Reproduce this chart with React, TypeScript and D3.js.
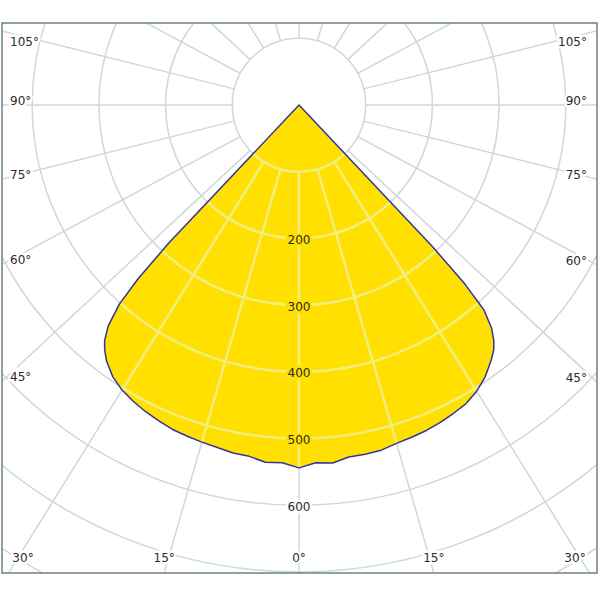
import React from "react";
import * as d3 from "d3";

// Luminous intensity (cd/klm) against gamma angle (deg from nadir)
const gammaAngles = [0, 2.5, 5, 7.5, 10, 12.5, 15, 17.5, 20, 22.5, 25, 27.5, 30, 32.5, 35, 36.5, 37.5, 38.75, 40, 40.75, 41.25, 42];
const intensityLeft = [544, 537, 538, 532, 531, 528, 526, 524, 522, 518, 514, 509, 503, 494, 480, 468, 458, 438, 402, 355, 285, 0];
const intensityRight = [544, 537, 539, 533, 533, 532, 528, 526, 524, 521, 517, 513, 505, 494, 479, 469, 459, 442, 414, 366, 292, 0];

const radialTicks = [100, 200, 300, 400, 500, 600, 700, 800, 900];
const radialLabels = [200, 300, 400, 500, 600];
const gridAngles = d3.range(0, 360, 15);
const labelAngles = [0, 15, 30, 45, 60, 75, 90, 105];

const W = 600;
const H = 600;
const frame = { x0: 2, y0: 23, x1: 597, y1: 573 };
const cx = 299;
const cy = 105;
const ANGLE_ASPECT = 0.93;

const rScale = d3.scaleLinear().domain([0, 100]).range([0, 66.7]);

function dir(deg: number): [number, number] {
  const a = (deg * Math.PI) / 180;
  const dx = Math.sin(a);
  const dy = ANGLE_ASPECT * Math.cos(a);
  const n = Math.hypot(dx, dy);
  return [dx / n, dy / n];
}
function project(deg: number, value: number): [number, number] {
  const [dx, dy] = dir(deg);
  const rr = rScale(value);
  return [cx + dx * rr, cy + dy * rr];
}

const curvePts: [number, number][] = [
  ...gammaAngles.map((g, i) => [-g, intensityLeft[i]] as [number, number]).reverse(),
  ...gammaAngles.slice(1).map((g, i) => [g, intensityRight[i + 1]] as [number, number]),
];
const curveLine = d3
  .line<[number, number]>()
  .x((d) => project(d[0], d[1])[0])
  .y((d) => project(d[0], d[1])[1]);
const curvePath = curveLine(curvePts) + "Z";

const FONT = "'DejaVu Sans', Verdana, sans-serif";

function Grid({ stroke, width }: { stroke: string; width: number }) {
  return (
    <g fill="none" stroke={stroke} strokeWidth={width}>
      {radialTicks.map((v) => (
        <circle key={"c" + v} cx={cx} cy={cy} r={rScale(v)} />
      ))}
      {gridAngles.map((a) => {
        const p0 = project(a, radialTicks[0]);
        const p1 = project(a, 1000);
        return <line key={"l" + a} x1={p0[0]} y1={p0[1]} x2={p1[0]} y2={p1[1]} />;
      })}
    </g>
  );
}

export default function App() {
  const angleLabels: { x: number; y: number; anchor: string; text: string; key: string }[] = [];
  labelAngles.forEach((a) => {
    const sides = a === 0 ? [0] : [-a, a];
    sides.forEach((s) => {
      const [dx, dy] = dir(s);
      const tx = dx < 0 ? (frame.x0 - cx) / dx : dx > 0 ? (frame.x1 - cx) / dx : Infinity;
      const ty = dy > 0 ? (frame.y1 - cy) / dy : (frame.y0 - cy) / dy;
      if (tx < ty) {
        const y = Math.max(cy + dy * tx - 4, 42);
        angleLabels.push({ x: dx < 0 ? 10 : 587, y, anchor: dx < 0 ? "start" : "end", text: a + "°", key: "a" + s });
      } else {
        const x = Math.min(Math.max(cx + dx * ty, 23), 575);
        angleLabels.push({ x, y: 558, anchor: "middle", text: a + "°", key: "a" + s });
      }
    });
  });

  return (
    <svg
      width={W}
      height={H}
      style={{ position: "absolute", left: 0, top: 0, display: "block", background: "#fff" }}
    >
      <defs>
        <clipPath id="frameClip">
          <rect x={frame.x0} y={frame.y0} width={frame.x1 - frame.x0} height={frame.y1 - frame.y0} />
        </clipPath>
        <clipPath id="curveClip">
          <path d={curvePath} />
        </clipPath>
      </defs>
      <rect x={0} y={0} width={W} height={H} fill="#fff" />
      <g clipPath="url(#frameClip)">
        <Grid stroke="#cdd8d9" width={1.5} />
        <path d={curvePath} fill="#ffe000" stroke="none" />
        <g clipPath="url(#curveClip)">
          <Grid stroke="#f2ee80" width={2.5} />
        </g>
        <path d={curvePath} fill="none" stroke="#34349a" strokeWidth={1.5} strokeLinejoin="round" />
      </g>
      <rect
        x={frame.x0}
        y={frame.y0}
        width={frame.x1 - frame.x0}
        height={frame.y1 - frame.y0}
        fill="none"
        stroke="#6f8081"
        strokeWidth={1.5}
      />
      <g fontFamily={FONT} fontSize={12} fill="#2b2b2b">
        {radialLabels.map((v) => {
          const inside = v < intensityLeft[0];
          return (
            <text
              key={"r" + v}
              x={cx}
              y={cy + rScale(v) + 2}
              textAnchor="middle"
              dominantBaseline="middle"
              stroke={inside ? "#ffe000" : "#fff"}
              strokeWidth={5}
              paintOrder="stroke"
            >
              {v}
            </text>
          );
        })}
        {angleLabels.map((l) => (
          <text
            key={l.key}
            x={l.x}
            y={l.y}
            textAnchor={l.anchor}
            dominantBaseline="middle"
            stroke="#fff"
            strokeWidth={5}
            paintOrder="stroke"
          >
            {l.text}
          </text>
        ))}
      </g>
    </svg>
  );
}
